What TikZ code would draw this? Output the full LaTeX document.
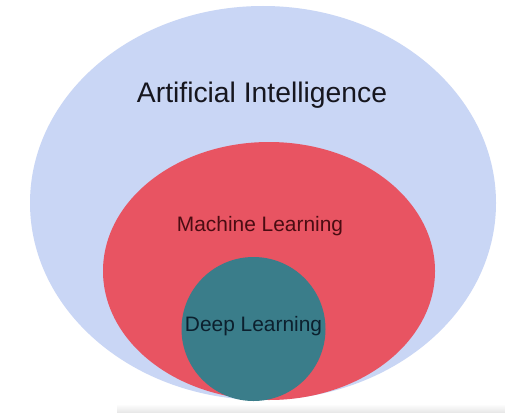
\documentclass[tikz,border=0pt]{standalone}
\usepackage{fontspec}
\setmainfont{Liberation Sans}
\usetikzlibrary{shapes.geometric}
\definecolor{AiBlue}{RGB}{201,214,245}
\definecolor{MlRed}{RGB}{232,84,98}
\definecolor{DlTeal}{RGB}{58,125,138}
\definecolor{AiText}{RGB}{22,22,30}
\definecolor{MlText}{RGB}{74,12,18}
\definecolor{DlText}{RGB}{12,32,46}

\begin{document}
\begin{tikzpicture}[
    x=1pt, y=-1pt,
    area/.style={draw=none, ellipse, inner sep=0pt},
    lbl/.style={inner sep=0pt, font=\fontsize{20.9}{25}\selectfont},
    biglbl/.style={inner sep=0pt, font=\fontsize{28.3}{34}\selectfont}
]
\useasboundingbox (0,0) rectangle (505,412);
\fill[white] (0,0) rectangle (505,412);

% nested areas
\node[area, fill=AiBlue, minimum width=466pt, minimum height=394pt] (ai) at (263,203) {};
\node[area, fill=MlRed, minimum width=332pt, minimum height=258pt] (ml) at (269,271) {};
\node[area, circle, fill=DlTeal, minimum size=144pt] (dl) at (253.5,329) {};

% labels
\node[biglbl, text=AiText] (aiLbl) at (262,95) {Artificial Intelligence};
\node[lbl, text=MlText] (mlLbl) at (260,226) {Machine Learning};
\node[lbl, text=DlText] (dlLbl) at (253.5,326) {Deep Learning};

% faint shadow at the bottom edge
\shade[top color=white, bottom color=gray!18] (117,404) rectangle (505,412);
\end{tikzpicture}
\end{document}
